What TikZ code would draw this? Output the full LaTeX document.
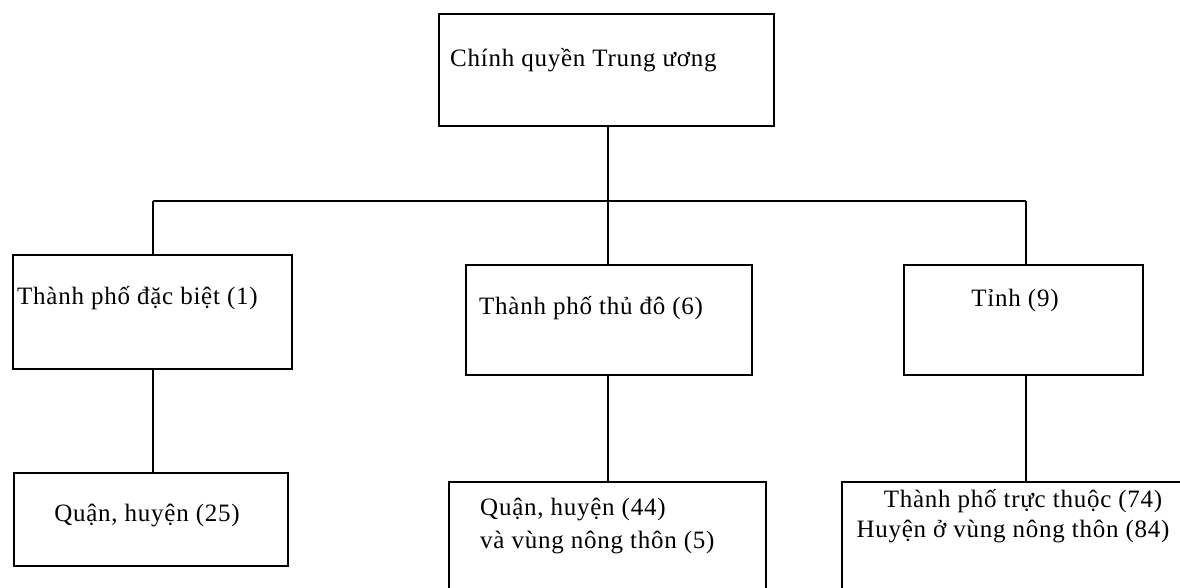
\documentclass[tikz,border=0pt]{standalone}
\usepackage{fontspec}
\setmainfont{Liberation Serif}[LetterSpace=3]
\begin{document}
\begin{tikzpicture}[x=1pt,y=-1pt,
  box/.style={draw=black, line width=1.6pt, rectangle, inner sep=0pt},
  lbl/.style={inner sep=0pt, font=\fontsize{25}{33}\selectfont},
  conn/.style={draw=black, line width=1.6pt}]
\useasboundingbox (0,0) rectangle (1180,587);
\clip (0,0) rectangle (1180,587);
% boxes
\node[box, minimum width=335pt, minimum height=112pt] (top) at (606.5,70) {};
\node[box, minimum width=279pt, minimum height=114pt] (A) at (152.5,312) {};
\node[box, minimum width=286pt, minimum height=110pt] (B) at (609,320) {};
\node[box, minimum width=239pt, minimum height=110pt] (C) at (1023.5,320) {};
\node[box, minimum width=274pt, minimum height=93pt] (A2) at (151,519.5) {};
\node[box, minimum width=317pt, minimum height=138pt] (B2) at (607.5,551) {};
\node[box, minimum width=358pt, minimum height=138pt] (C2) at (1021,551) {};
% texts
\node[lbl, anchor=base west] (ttop) at (450,66) {Chính quyền Trung ương};
\node[lbl, anchor=base west] (tA) at (17,304) {Thành phố đặc biệt (1)};
\node[lbl, anchor=base west] (tB) at (479,314) {Thành phố thủ đô (6)};
\node[lbl, anchor=base] (tC) at (1015,306) {Tỉnh (9)};
\node[lbl, anchor=base] (tA2) at (147,521) {Quận, huyện (25)};
\node[lbl, anchor=base west] (tB2a) at (480,515) {Quận, huyện (44)};
\node[lbl, anchor=base west] (tB2b) at (480,548) {và vùng nông thôn (5)};
\node[lbl, anchor=base] (tC2a) at (1023,507) {Thành phố trực thuộc (74)};
\node[lbl, anchor=base] (tC2b) at (1013,537) {Huyện ở vùng nông thôn (84)};
% connectors
\coordinate (bl) at (153,201);
\coordinate (bm) at (608,201);
\coordinate (br) at (1026,201);
\draw[conn] (bl) -- (br);
\draw[conn] (bm |- top.south) -- (bm);
\draw[conn] (bl) -- (bl |- A.north);
\draw[conn] (bm) -- (bm |- B.north);
\draw[conn] (br) -- (br |- C.north);
\draw[conn] (bl |- A.south) -- (bl |- A2.north);
\draw[conn] (bm |- B.south) -- (bm |- B2.north);
\draw[conn] (br |- C.south) -- (br |- C2.north);
\end{tikzpicture}
\end{document}
